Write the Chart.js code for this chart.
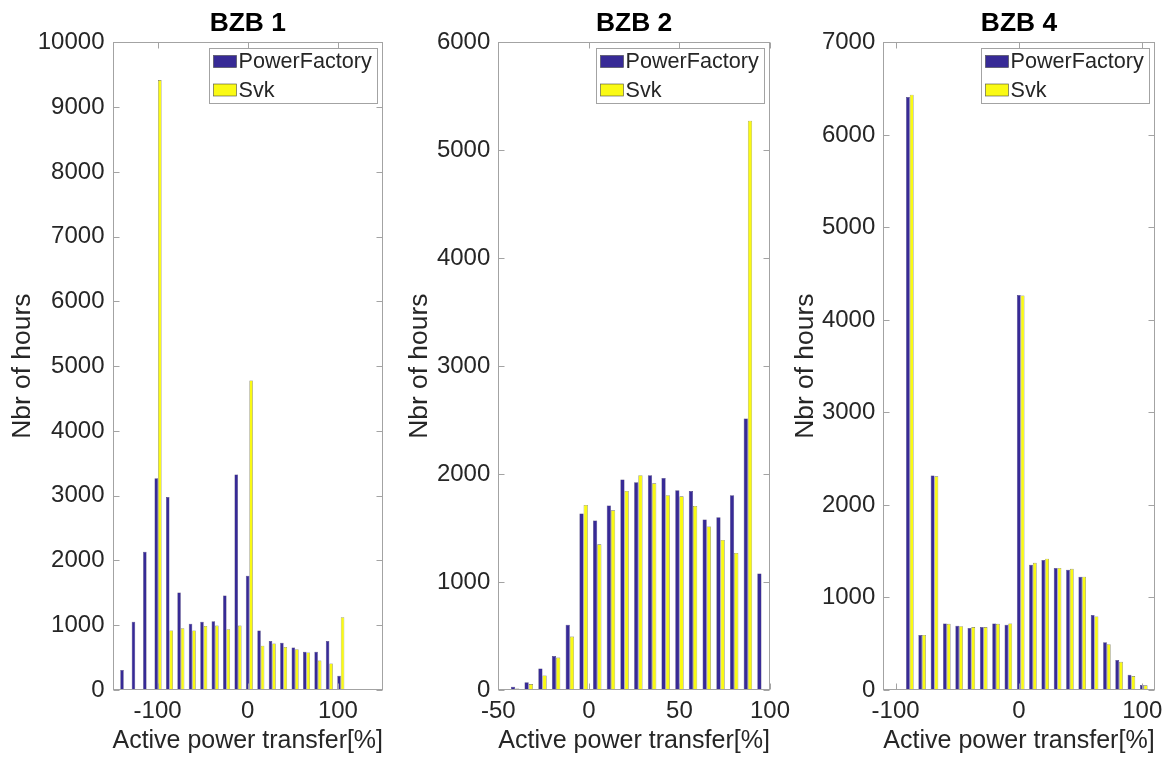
<!DOCTYPE html>
<html>
<head>
<meta charset="utf-8">
<script src="https://cdn.jsdelivr.net/npm/chart.js@4.4.1/dist/chart.umd.min.js"></script>
<style>
  html, body { margin: 0; padding: 0; background: #ffffff; }
  #wrap { position: relative; width: 1170px; height: 758px; overflow: hidden; }
  canvas { position: absolute; left: 0; top: 0; }
</style>
</head>
<body>
<div id="wrap">
  <canvas id="c1" width="1170" height="758"></canvas>
  <canvas id="c2" width="1170" height="758"></canvas>
  <canvas id="c3" width="1170" height="758"></canvas>
</div>
<script>
// ---------------- data ----------------
const seriesNames = ['PowerFactory', 'Svk'];
const xAxisLabel = 'Active power transfer[%]';
const yAxisLabel = 'Nbr of hours';

const bzb1Title = 'BZB 1';
const bzb1Bins = [-137.5, -124.8, -112.2, -99.5, -86.8, -74.2, -61.5, -48.8, -36.2, -23.5, -10.8, 1.8, 14.5, 27.2, 39.8, 52.5, 65.2, 77.8, 90.5, 103.2];
const bzb1PowerFactory = [310, 1055, 2135, 3270, 2980, 1505, 1025, 1055, 1060, 1460, 3330, 1765, 920, 755, 730, 655, 590, 590, 755, 220];
const bzb1Svk = [0, 0, 0, 9420, 920, 955, 920, 990, 995, 940, 995, 4780, 685, 720, 665, 630, 580, 455, 410, 1125];
const bzb1XTicks = [-100, 0, 100];
const bzb1YTicks = [0, 1000, 2000, 3000, 4000, 5000, 6000, 7000, 8000, 9000, 10000];

const bzb2Title = 'BZB 2';
const bzb2Bins = [-48.3, -40.7, -33.2, -25.6, -18.1, -10.5, -2.9, 4.6, 12.2, 19.7, 27.3, 34.9, 42.4, 50.0, 57.5, 65.1, 72.7, 80.2, 87.8, 95.3];
const bzb2PowerFactory = [6, 31, 71, 200, 315, 605, 1635, 1570, 1710, 1950, 1925, 1990, 1965, 1850, 1845, 1580, 1600, 1805, 2515, 1080];
const bzb2Svk = [4, 15, 55, 135, 300, 495, 1715, 1350, 1665, 1845, 1990, 1915, 1805, 1795, 1705, 1515, 1390, 1270, 5275, 0];
const bzb2XTicks = [-50, 0, 50, 100];
const bzb2YTicks = [0, 1000, 2000, 3000, 4000, 5000, 6000];

const bzb4Title = 'BZB 4';
const bzb4Bins = [-88.5, -78.5, -68.5, -58.5, -48.5, -38.6, -28.6, -18.6, -8.6, 1.4, 11.3, 21.3, 31.3, 41.3, 51.3, 61.3, 71.3, 81.2, 91.2, 101.2];
const bzb4PowerFactory = [6410, 595, 2320, 720, 695, 670, 680, 720, 705, 4270, 1355, 1405, 1320, 1300, 1225, 810, 515, 325, 165, 55];
const bzb4Svk = [6435, 595, 2310, 715, 690, 680, 680, 715, 720, 4265, 1375, 1420, 1320, 1310, 1225, 795, 495, 305, 150, 50];
const bzb4XTicks = [-100, 0, 100];
const bzb4YTicks = [0, 1000, 2000, 3000, 4000, 5000, 6000, 7000];

// ---------------- style ----------------
const FONT = '"Liberation Sans", Arial, Helvetica, sans-serif';
const TEXT = '#262626';
const AXIS = '#a3a3a3';
const BLUE = 'rgb(55,42,150)';
const YELLOW = 'rgb(250,250,20)';

Chart.defaults.font.family = FONT;
Chart.defaults.color = TEXT;

const framePlugin = {
  id: 'frame',
  afterDraw(chart) {
    const { ctx, chartArea: a, scales: { x, y } } = chart;
    ctx.save();
    ctx.strokeStyle = AXIS;
    ctx.lineWidth = 1;
    const L = Math.round(a.left) + 0.5, R = Math.round(a.right) - 0.5;
    const T = Math.round(a.top) + 0.5, B = Math.round(a.bottom) - 0.5;
    ctx.strokeRect(L, T, R - L, B - T);
    const tl = 6;
    ctx.beginPath();
    x.ticks.forEach(t => {
      const p = Math.round(x.getPixelForValue(t.value)) + 0.5;
      ctx.moveTo(p, B); ctx.lineTo(p, B - tl);
      ctx.moveTo(p, T); ctx.lineTo(p, T + tl);
    });
    y.ticks.forEach(t => {
      const p = Math.round(y.getPixelForValue(t.value)) + 0.5;
      ctx.moveTo(L, p); ctx.lineTo(L + tl, p);
      ctx.moveTo(R, p); ctx.lineTo(R - tl, p);
    });
    ctx.stroke();

    // legend inside the axes, top right
    const w = 168, h = 55;
    const lx = Math.round(a.right - 6 - w) + 0.5, ly = Math.round(a.top + 6) + 0.5;
    ctx.fillStyle = '#ffffff';
    ctx.fillRect(lx, ly, w, h);
    ctx.strokeStyle = AXIS;
    ctx.strokeRect(lx, ly, w, h);
    const rows = [13, 41.5];
    ctx.font = '21.6px ' + FONT;
    ctx.textBaseline = 'middle';
    ctx.textAlign = 'left';
    chart.data.datasets.forEach((ds, i) => {
      const cy = ly + rows[i];
      ctx.fillStyle = ds.backgroundColor;
      ctx.fillRect(lx + 4, cy - 6, 23, 12);
      ctx.strokeStyle = 'rgba(60,60,60,0.8)';
      ctx.lineWidth = 0.7;
      ctx.strokeRect(lx + 4, cy - 6, 23, 12);
      ctx.fillStyle = TEXT;
      ctx.fillText(ds.label, lx + 29, cy + 1);
    });
    ctx.restore();
  }
};

function makeChart(id, title, bins, pf, svk, xTicks, yTicks, xmin, xmax, ymax, lay) {
  const toPts = vals => bins.map((b, i) => ({ x: b, y: vals[i] }));
  return new Chart(document.getElementById(id), {
    type: 'bar',
    data: {
      datasets: [
        { label: seriesNames[0], data: toPts(pf), backgroundColor: BLUE,
          borderColor: 'rgba(40,30,90,0.9)', borderWidth: 0.5,
          categoryPercentage: 0.62, barPercentage: 1.0 },
        { label: seriesNames[1], data: toPts(svk), backgroundColor: YELLOW,
          borderColor: 'rgba(90,90,60,0.85)', borderWidth: 0.6,
          categoryPercentage: 0.62, barPercentage: 1.0 }
      ]
    },
    options: {
      responsive: false,
      animation: false,
      devicePixelRatio: 1,
      layout: { padding: { left: lay.pl, right: lay.pr, top: 0, bottom: 0 } },
      plugins: {
        legend: { display: false },
        tooltip: { enabled: false },
        title: {
          display: true, text: title, fullSize: false, color: '#000',
          font: { size: 26.4, weight: 'bold', family: FONT },
          padding: { top: 7.5, bottom: 3.3 }
        }
      },
      scales: {
        x: {
          type: 'linear', min: xmin, max: xmax, offset: false,
          grid: { display: false, drawTicks: false },
          border: { display: false },
          ticks: { font: { size: 24 }, padding: 7, maxRotation: 0, autoSkip: false, color: TEXT,
                   callback: v => String(v) },
          afterBuildTicks: s => { s.ticks = xTicks.map(v => ({ value: v })); },
          afterFit: s => { s.height = 68; },
          title: { display: true, text: xAxisLabel, color: TEXT,
                   font: { size: 26.4 }, padding: { top: 0, bottom: 1 } }
        },
        y: {
          type: 'linear', min: 0, max: ymax,
          grid: { display: false, drawTicks: false },
          border: { display: false },
          ticks: { font: { size: 24 }, padding: 8, autoSkip: false, color: TEXT,
                   callback: v => String(v) },
          afterBuildTicks: s => { s.ticks = yTicks.map(v => ({ value: v })); },
          afterFit: s => { s.width = lay.yw; },
          title: { display: true, text: yAxisLabel, color: TEXT,
                   font: { size: 26.4 }, padding: { top: lay.yt, bottom: 0 } }
        }
      }
    },
    plugins: [framePlugin]
  });
}

makeChart('c1', bzb1Title, bzb1Bins, bzb1PowerFactory, bzb1Svk, bzb1XTicks, bzb1YTicks, -150, 150, 10000,
          { pl: 0, pr: 787, yw: 112.5, yt: 7.2 });
makeChart('c2', bzb2Title, bzb2Bins, bzb2PowerFactory, bzb2Svk, bzb2XTicks, bzb2YTicks, -50, 100, 6000,
          { pl: 390, pr: 400, yw: 108.3, yt: 13.7 });
makeChart('c3', bzb4Title, bzb4Bins, bzb4PowerFactory, bzb4Svk, bzb4XTicks, bzb4YTicks, -110, 110, 7000,
          { pl: 780, pr: 15, yw: 103.3, yt: 9.7 });
</script>
</body>
</html>
